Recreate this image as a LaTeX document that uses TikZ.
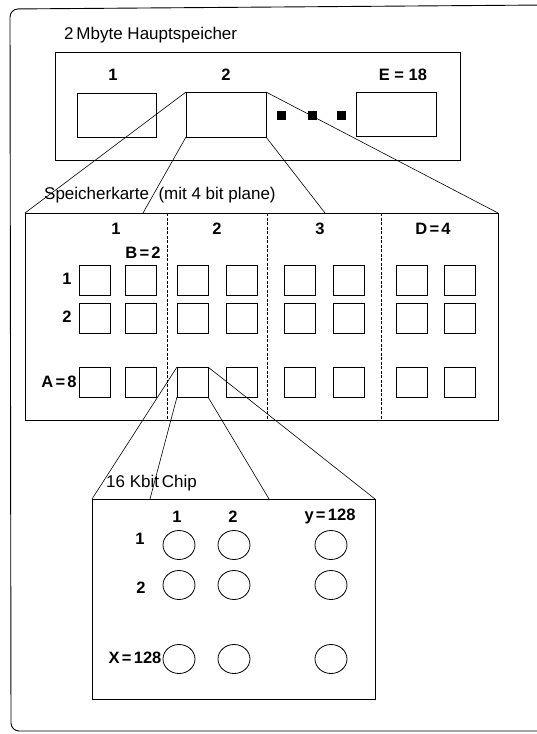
\documentclass[tikz,border=0pt]{standalone}
\usepackage{fontspec}
\setmainfont{Liberation Sans}
\usetikzlibrary{shapes.geometric}
\newcommand{\eqs}{\hspace{0.14em}=\hspace{0.14em}}
\begin{document}
\begin{tikzpicture}[x=1pt,y=-1pt,
  frame/.style={draw,line width=0.9pt,inner sep=0pt,outer sep=0pt},
  cell/.style={draw,line width=0.8pt,minimum width=31pt,minimum height=30pt,inner sep=0pt,outer sep=0pt},
  bitcell/.style={draw,line width=0.8pt,ellipse,minimum width=32pt,minimum height=29pt,inner sep=0pt,outer sep=0pt},
  dot/.style={fill,minimum size=9pt,inner sep=0pt},
  lbl/.style={font=\fontsize{16.5}{18}\selectfont\bfseries,inner sep=1pt},
  ttl/.style={font=\fontsize{17}{19}\selectfont,inner sep=1pt},
  con/.style={line width=0.6pt},
  divider/.style={line width=0.7pt,dash pattern=on 3pt off 1.5pt}]
\useasboundingbox (0,0) rectangle (537,734);
% outer frame
\draw[line width=0.9pt,rounded corners=8pt] (545,5) -- (10,9) -- (11,731) -- (545,731);
% main memory
\node[ttl,anchor=west] (t1) at (63,35) {2\,Mbyte Hauptspeicher};
\node[frame,minimum width=405pt,minimum height=108pt] (mem) at (257.5,106) {};
\node[lbl] (e1) at (113,75) {1};
\node[lbl] (e2) at (226,75) {2};
\node[lbl] (eE) at (403,75) {E = 18};
\node[cell,minimum width=79pt,minimum height=44pt] (m1) at (116.5,115) {};
\node[cell,minimum width=80pt,minimum height=45pt] (m2) at (226,114.5) {};
\node[cell,minimum width=80pt,minimum height=44pt] (mE) at (396,114) {};
\node[dot] (d1) at (281,115) {};
\node[dot] (d2) at (312,115) {};
\node[dot] (d3) at (341,115) {};
% memory card
\node[ttl,anchor=west] (t2) at (43,195) {Speicherkarte\ \ (mit 4 bit plane)};
\node[frame,minimum width=473pt,minimum height=207pt] (card) at (261.5,316.5) {};
\coordinate (k2) at (143,213);
\coordinate (k3) at (325,213);
\draw[con] (m2.north west) -- (card.north west);
\draw[con] (m2.south west) -- (k2);
\draw[con] (m2.south east) -- (k3);
\draw[con] (m2.north east) -- (card.north east);
\coordinate (v1t) at (167,213); \coordinate (v1b) at (167,420);
\coordinate (v2t) at (267,213); \coordinate (v2b) at (267,420);
\coordinate (v3t) at (381,213); \coordinate (v3b) at (381,420);
\draw[divider] (v1t) -- (v1b);
\draw[divider] (v2t) -- (v2b);
\draw[divider] (v3t) -- (v3b);
\node[lbl] (p1) at (116,229) {1};
\node[lbl] (p2) at (217,229) {2};
\node[lbl] (p3) at (320,229) {3};
\node[lbl] (p4) at (433,229) {D\eqs4};
\node[lbl] (pb) at (143,253) {B\eqs2};
\node[lbl] (r1) at (67,279) {1};
\node[lbl] (r2) at (67,317) {2};
\node[lbl] (ra) at (59,382) {A\eqs8};
\foreach \c/\x in {1/94.5,2/141,3/192.5,4/241.5,5/299.5,6/348.5,7/411.5,8/460}{
  \node[cell] (c1\c) at (\x,280) {};
  \node[cell] (c2\c) at (\x,318) {};
  \node[cell] (c3\c) at (\x,382) {};
}
% chip
\node[ttl,anchor=west] (t3) at (105,483) {16 Kbit\,Chip};
\node[frame,minimum width=283pt,minimum height=200pt] (chip) at (233.5,599) {};
\coordinate (h2) at (150,499);
\coordinate (h3) at (269,499);
\draw[con] (c33.north west) -- (chip.north west);
\draw[con] (c33.south west) -- (h2);
\draw[con] (c33.south east) -- (h3);
\draw[con] (c33.north east) -- (chip.north east);
\node[lbl] (q1) at (177,517) {1};
\node[lbl] (q2) at (233,517) {2};
\node[lbl] (qy) at (330,516) {y\eqs128};
\node[lbl] (s1) at (140,539) {1};
\node[lbl] (s2) at (141,588) {2};
\node[lbl] (sx) at (135,658) {X\eqs128};
\foreach \c/\x in {1/179,2/234,3/331}{
  \node[bitcell] (b1\c) at (\x,545) {};
  \node[bitcell] (b2\c) at (\x,585) {};
  \node[bitcell] (b3\c) at (\x,659) {};
}
\end{tikzpicture}
\end{document}
